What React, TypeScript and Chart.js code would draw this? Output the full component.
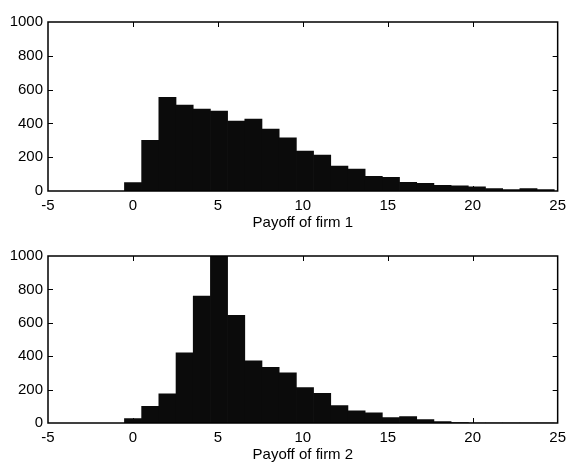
import React, { useEffect, useRef } from "react";
import { Chart, registerables } from "chart.js";

Chart.register(...registerables);

// Histogram bin centres (bins of width ~1.012 from -0.5 to 24.8)
const binCenters = [
  0.006, 1.018, 2.03, 3.042, 4.054, 5.066, 6.078, 7.09, 8.102, 9.114,
  10.126, 11.138, 12.15, 13.162, 14.174, 15.186, 16.198, 17.21, 18.222, 19.234,
  20.246, 21.258, 22.27, 23.282, 24.294,
];

const firm1Counts = [
  50, 300, 555, 508, 485, 473, 414, 426, 366, 315,
  236, 212, 148, 129, 87, 81, 52, 45, 34, 31,
  25, 15, 9, 15, 9,
];

const firm2Counts = [
  26, 100, 175, 420, 760, 1005, 645, 373, 334, 300,
  212, 178, 104, 73, 61, 33, 38, 20, 8, 2,
  0, 0, 0, 0, 0,
];

const xTickValues = [-5, 0, 5, 10, 15, 20, 25];
const yTickValues = [0, 200, 400, 600, 800, 1000];

const titles = ["Payoff of firm 1", "Payoff of firm 2"];

const FONT = "'Liberation Sans', Arial, Helvetica, sans-serif";

const framePlugin = {
  id: "matlabFrame",
  beforeDatasetsDraw(chart: any) {
    const { ctx, chartArea: a, scales } = chart;
    const len = 5;
    ctx.save();
    ctx.strokeStyle = "#000";
    ctx.lineWidth = 1;
    for (const v of xTickValues) {
      if (v === scales.x.min || v === scales.x.max) continue;
      const px = Math.round(scales.x.getPixelForValue(v)) + 0.5;
      ctx.beginPath();
      ctx.moveTo(px, a.bottom);
      ctx.lineTo(px, a.bottom - len);
      ctx.moveTo(px, a.top);
      ctx.lineTo(px, a.top + len);
      ctx.stroke();
    }
    for (const v of yTickValues) {
      if (v === scales.y.min || v === scales.y.max) continue;
      const py = Math.round(scales.y.getPixelForValue(v)) + 0.5;
      ctx.beginPath();
      ctx.moveTo(a.left, py);
      ctx.lineTo(a.left + len, py);
      ctx.moveTo(a.right, py);
      ctx.lineTo(a.right - len, py);
      ctx.stroke();
    }
    ctx.restore();
  },
  afterDatasetsDraw(chart: any) {
    const { ctx, chartArea: a } = chart;
    ctx.save();
    ctx.strokeStyle = "#000";
    ctx.lineWidth = 1.5;
    ctx.strokeRect(a.left, a.top, a.right - a.left, a.bottom - a.top);
    ctx.restore();
  },
};

function Histogram(props: {
  counts: number[];
  title: string;
  topPad: number;
  titlePad: number;
}) {
  const ref = useRef<HTMLCanvasElement | null>(null);
  useEffect(() => {
    if (!ref.current) return;
    const chart = new Chart(ref.current, {
      type: "bar",
      data: {
        datasets: [
          {
            data: binCenters.map((x, i) => ({ x, y: props.counts[i] })),
            backgroundColor: "#0b0b0b",
            borderWidth: 0,
            barPercentage: 1,
            categoryPercentage: 1,
          },
        ],
      },
      options: {
        animation: false,
        responsive: true,
        maintainAspectRatio: false,
        layout: { padding: { top: props.topPad, right: 12, left: 0, bottom: 0 } },
        plugins: {
          legend: { display: false },
          tooltip: { enabled: false },
          title: { display: false },
        },
        scales: {
          x: {
            type: "linear",
            min: -5,
            max: 25,
            offset: false,
            grid: { display: false, drawTicks: false },
            border: { display: false },
            afterBuildTicks: (s: any) => {
              s.ticks = xTickValues.map((v) => ({ value: v }));
            },
            afterFit: (s: any) => {
              s.height = 41;
            },
            ticks: {
              color: "#000",
              padding: 6,
              maxRotation: 0,
              autoSkip: false,
              font: { family: FONT, size: 15 },
              callback: (v: any) => String(v),
            },
            title: {
              display: true,
              text: props.title,
              color: "#000",
              font: { family: FONT, size: 15, lineHeight: 1.2 },
              padding: { top: 0, bottom: props.titlePad },
            },
          },
          y: {
            type: "linear",
            min: 0,
            max: 1000,
            grid: { display: false, drawTicks: false },
            border: { display: false },
            afterBuildTicks: (s: any) => {
              s.ticks = yTickValues.map((v) => ({ value: v }));
            },
            afterFit: (s: any) => {
              s.width = 48;
            },
            ticks: {
              color: "#000",
              padding: 5,
              font: { family: FONT, size: 15 },
              callback: (v: any) => String(v),
            },
          },
        },
      },
      plugins: [framePlugin],
    });
    return () => chart.destroy();
  }, []);
  return (
    <div style={{ position: "relative", width: 572, height: 232 }}>
      <canvas ref={ref} />
    </div>
  );
}

export default function App() {
  return (
    <div
      style={{
        position: "absolute",
        left: 0,
        top: 0,
        width: 572,
        height: 464,
        background: "#fff",
      }}
    >
      <Histogram counts={firm1Counts} title={titles[0]} topPad={22} titlePad={0} />
      <Histogram counts={firm2Counts} title={titles[1]} topPad={24} titlePad={0} />
    </div>
  );
}
